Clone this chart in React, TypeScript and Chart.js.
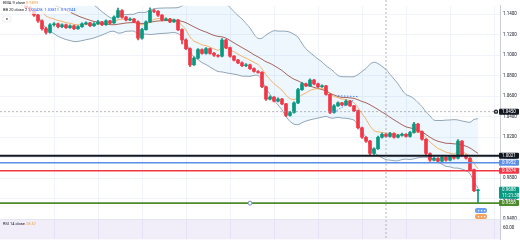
import React, { useEffect, useRef } from "react";
import { Chart, registerables } from "chart.js";

Chart.register(...registerables);

// ---------- data ----------
// closes before the first slot, used only to seed the indicators
const historyCloses = [
  1.168, 1.171, 1.166, 1.169, 1.172, 1.17, 1.167, 1.165, 1.168, 1.166,
  1.163, 1.165, 1.164, 1.161, 1.163, 1.166, 1.164, 1.162, 1.165,
];
const firstOpen = 1.165;
const closes = [
  1.162, 1.1585, 1.156, 1.153, 1.151, 1.149, 1.1465, 1.1437, 1.1391, 1.1335,
  1.126, 1.1223, 1.1298, 1.1307, 1.1279, 1.1298, 1.127, 1.1288, 1.126, 1.1279,
  1.1307, 1.1316, 1.1288, 1.1307, 1.1326, 1.1298, 1.1335, 1.1316, 1.1372, 1.1437,
  1.1372, 1.1344, 1.1353, 1.1326, 1.1167, 1.1251, 1.1326, 1.1437, 1.1428, 1.1391,
  1.1344, 1.1353, 1.1326, 1.1344, 1.1251, 1.1149, 1.1065, 1.0907, 1.0972, 1.1056,
  1.1019, 1.1065, 1.1019, 1.1, 1.0991, 1.1149, 1.1074, 1.0991, 1.0953, 1.0926,
  1.0898, 1.0907, 1.087, 1.0842, 1.0833, 1.0693, 1.0572, 1.0591, 1.0553, 1.0572,
  1.0526, 1.0414, 1.0442, 1.0535, 1.0665, 1.0721, 1.0702, 1.0758, 1.0721, 1.0693,
  1.0702, 1.0619, 1.0442, 1.0507, 1.0535, 1.0516, 1.0553, 1.0507, 1.046, 1.0293,
  1.02, 1.0163, 1.0042, 1.0088, 1.02, 1.0228, 1.0209, 1.0237, 1.02, 1.0219,
  1.0228, 1.0209, 1.0247, 1.033, 1.0256, 1.0181, 1.0042, 0.9977, 0.9995, 0.9967,
  1.0005, 0.9977, 1.0014, 0.9995, 1.0163, 1.0023, 0.9995, 0.9884, 0.9679, 0.9688,
];
const highs = [
  1.1665, 1.163, 1.16, 1.157, 1.1545, 1.152, 1.15, 1.1475, 1.1445, 1.14,
  1.1345, 1.1275, 1.131, 1.132, 1.1315, 1.1308, 1.1305, 1.1297, 1.1295, 1.129,
  1.1316, 1.1326, 1.1322, 1.1318, 1.134, 1.1332, 1.1345, 1.1342, 1.1385, 1.146,
  1.1445, 1.138, 1.1365, 1.136, 1.1335, 1.1262, 1.1335, 1.1462, 1.145, 1.1435,
  1.1398, 1.1365, 1.136, 1.1352, 1.135, 1.1258, 1.116, 1.1072, 1.0985, 1.1065,
  1.1062, 1.1075, 1.107, 1.1028, 1.1008, 1.1162, 1.1155, 1.108, 1.0998, 1.096,
  1.0935, 1.0918, 1.0915, 1.0878, 1.085, 1.084, 1.07, 1.0605, 1.0598, 1.0585,
  1.058, 1.0532, 1.0452, 1.0545, 1.0678, 1.0735, 1.073, 1.077, 1.0765, 1.0728,
  1.0712, 1.0708, 1.0625, 1.0518, 1.0545, 1.0542, 1.0565, 1.056, 1.0512, 1.0466,
  1.03, 1.0208, 1.017, 1.0098, 1.0212, 1.024, 1.0235, 1.0248, 1.0244, 1.023,
  1.024, 1.0235, 1.0258, 1.0345, 1.0336, 1.0262, 1.0188, 1.0048, 1.0006, 1.0002,
  1.0016, 1.0012, 1.0025, 1.002, 1.0178, 1.0168, 1.003, 1.0002, 0.989, 0.9695,
];
const lows = [
  1.161, 1.1575, 1.155, 1.152, 1.15, 1.1485, 1.1455, 1.1425, 1.138, 1.132,
  1.1245, 1.1205, 1.1215, 1.1285, 1.1268, 1.127, 1.1262, 1.1262, 1.125, 1.1252,
  1.1272, 1.1298, 1.128, 1.1282, 1.13, 1.129, 1.1292, 1.1308, 1.131, 1.1365,
  1.1362, 1.1335, 1.1338, 1.1318, 1.115, 1.1158, 1.1245, 1.132, 1.1415, 1.138,
  1.1335, 1.1338, 1.1318, 1.132, 1.124, 1.111, 1.1055, 1.089, 1.09, 1.0965,
  1.101, 1.1012, 1.101, 1.099, 1.0982, 1.0985, 1.1065, 1.0982, 1.0945, 1.0918,
  1.0888, 1.089, 1.0862, 1.0835, 1.0825, 1.0685, 1.056, 1.0565, 1.0545, 1.0546,
  1.0518, 1.04, 1.0405, 1.0436, 1.0528, 1.0658, 1.0694, 1.0696, 1.0712, 1.0685,
  1.0686, 1.061, 1.043, 1.0436, 1.05, 1.0508, 1.051, 1.05, 1.045, 1.0282,
  1.019, 1.015, 1.0025, 1.0032, 1.0082, 1.0192, 1.02, 1.0202, 1.0192, 1.0194,
  1.0212, 1.02, 1.0202, 1.024, 1.0248, 1.0172, 1.003, 0.9965, 0.997, 0.9958,
  0.996, 0.9968, 0.997, 0.9986, 0.999, 1.0015, 0.9986, 0.9875, 0.967, 0.9558,
];
const slotCount = 125;
const levelPrices = [1.0021, 0.9952, 0.9874, 0.9558];
const crosshairPrice = 1.045;
const crosshairSlot = 96;
const handleSlot = 62;
const gridSlots = [13, 24, 35, 46, 57, 68, 79, 90, 101, 112, 123];
const countdownText = "11:21:38";
const patternTopSlots = [84, 89];
const patternTopPrices = [1.0605, 1.0597];
const patternDiagSlots = [83, 88];
const patternDiagPrices = [1.0445, 1.0565];
const priceMin = 0.92047;
const priceMax = 1.14837;
const priceStep = 0.02;
const rsiPeriod = 14;
const rsiPaneTop = 70;
const rsiAxisLabel = 60;

// ---------- styles ----------
const FONT = "Roboto, 'Liberation Sans', sans-serif";
const UP = "#089981";
const DOWN = "#f23645";
const levelStyles = [
  { color: "#131722", width: 2 },
  { color: "#5b8ee6", width: 1.6 },
  { color: "#f23645", width: 1.6 },
  { color: "#4c8b2b", width: 1.6 },
];

// ---------- derived tables ----------
const opens = closes.map((c, i) => (i === 0 ? firstOpen : closes[i - 1]));
const allCloses = historyCloses.concat(closes);
const H = historyCloses.length;

function bands() {
  const up: (number | null)[] = [];
  const mid: (number | null)[] = [];
  const lo: (number | null)[] = [];
  for (let i = 0; i < closes.length; i++) {
    const end = H + i;
    const win = allCloses.slice(Math.max(0, end - 19), end + 1);
    const m = win.reduce((a, b) => a + b, 0) / win.length;
    const sd = Math.sqrt(win.reduce((a, b) => a + (b - m) * (b - m), 0) / win.length);
    mid.push(m);
    up.push(m + 2 * sd);
    lo.push(m - 2 * sd);
  }
  return { up, mid, lo };
}
function ema(period: number) {
  const k = 2 / (period + 1);
  let e = allCloses[0];
  const out: number[] = [];
  allCloses.forEach((c, i) => {
    e = i === 0 ? c : c * k + e * (1 - k);
    if (i >= H) out.push(e);
  });
  return out;
}
function rsi(period: number) {
  let ag = 0;
  let al = 0;
  const out: (number | null)[] = [];
  for (let i = 1; i < allCloses.length; i++) {
    const d = allCloses[i] - allCloses[i - 1];
    const g = Math.max(d, 0);
    const l = Math.max(-d, 0);
    if (i <= period) {
      ag += g / period;
      al += l / period;
    } else {
      ag = (ag * (period - 1) + g) / period;
      al = (al * (period - 1) + l) / period;
    }
    if (i >= H) out.push(al === 0 ? 100 : 100 - 100 / (1 + ag / al));
  }
  if (out.length < closes.length) out.unshift(null);
  return out;
}

export default function App() {
  const ref = useRef<HTMLCanvasElement | null>(null);
  useEffect(() => {
    if (!ref.current) return;
    const labels = Array.from({ length: slotCount }, (_, i) => String(i));
    const bb = bands();
    const e9 = ema(9);
    const r = rsi(rsiPeriod);
    const colors = closes.map((c, i) => (c >= opens[i] ? UP : DOWN));
    const last = closes.length - 1;

    const roundRect = (ctx: CanvasRenderingContext2D, x: number, y: number, w: number, h: number, rad: number) => {
      ctx.beginPath();
      ctx.moveTo(x + rad, y);
      ctx.lineTo(x + w - rad, y);
      ctx.quadraticCurveTo(x + w, y, x + w, y + rad);
      ctx.lineTo(x + w, y + h - rad);
      ctx.quadraticCurveTo(x + w, y + h, x + w - rad, y + h);
      ctx.lineTo(x + rad, y + h);
      ctx.quadraticCurveTo(x, y + h, x, y + h - rad);
      ctx.lineTo(x, y + rad);
      ctx.quadraticCurveTo(x, y, x + rad, y);
      ctx.closePath();
    };

    const overlay = {
      id: "overlay",
      beforeDatasetsDraw(chart: any) {
        const { ctx, chartArea, scales } = chart;
        const top = scales.rsi.getPixelForValue(rsiPaneTop);
        ctx.save();
        ctx.fillStyle = "rgba(149,117,205,0.13)";
        ctx.fillRect(chartArea.left, top, chartArea.right - chartArea.left, chartArea.bottom - top);
        ctx.strokeStyle = "#e0e3eb";
        ctx.lineWidth = 1;
        ctx.beginPath();
        ctx.moveTo(chartArea.left, top - 0.5);
        ctx.lineTo(chart.width, top - 0.5);
        ctx.stroke();
        ctx.restore();
      },
      afterDatasetsDraw(chart: any) {
        const { ctx, chartArea, scales } = chart;
        const y = scales.y;
        const x = scales.x;
        ctx.save();
        // level lines
        levelPrices.forEach((p, i) => {
          const py = y.getPixelForValue(p);
          ctx.strokeStyle = levelStyles[i].color;
          ctx.lineWidth = levelStyles[i].width;
          ctx.beginPath();
          ctx.moveTo(chartArea.left, py);
          ctx.lineTo(chartArea.right, py);
          ctx.stroke();
        });
        // handle on green line
        const gy = y.getPixelForValue(levelPrices[3]);
        const hx = x.getPixelForValue(handleSlot);
        ctx.beginPath();
        ctx.arc(hx, gy, 2, 0, Math.PI * 2);
        ctx.fillStyle = "#ffffff";
        ctx.fill();
        ctx.strokeStyle = "#6c8fb8";
        ctx.lineWidth = 1;
        ctx.stroke();
        // crosshair
        const cx = x.getPixelForValue(crosshairSlot);
        const cy = y.getPixelForValue(crosshairPrice);
        ctx.setLineDash([2, 2]);
        ctx.strokeStyle = "#9598a1";
        ctx.lineWidth = 0.7;
        ctx.beginPath();
        ctx.moveTo(cx, 0);
        ctx.lineTo(cx, chartArea.bottom);
        ctx.moveTo(chartArea.left, cy);
        ctx.lineTo(chartArea.right, cy);
        ctx.stroke();
        ctx.setLineDash([]);

        // legend texts
        ctx.textBaseline = "middle";
        ctx.textAlign = "left";
        ctx.font = `4px ${FONT}`;
        ctx.fillStyle = "rgba(255,255,255,0.75)";
        ctx.fillRect(1, 0, 70, 14);
        ctx.fillStyle = "#131722";
        ctx.fillText("EMA 9 close", 3, 3);
        ctx.fillStyle = "#f59d3d";
        ctx.fillText(e9[last].toFixed(4), 26, 3);
        ctx.fillStyle = "#131722";
        ctx.fillText("BB 20 close 2", 3, 10);
        ctx.fillStyle = "#2962ff";
        ctx.fillText(
          `${(bb.mid[last] as number).toFixed(5)}  ${(bb.up[last] as number).toFixed(5)}  ${(bb.lo[last] as number).toFixed(5)}`,
          28,
          10
        );
        // collapse button
        ctx.fillStyle = "#ffffff";
        roundRect(ctx, 3, 16, 8, 6, 1.5);
        ctx.fill();
        ctx.strokeStyle = "#e0e3eb";
        ctx.lineWidth = 0.6;
        ctx.stroke();
        ctx.fillStyle = "#131722";
        ctx.font = `5px ${FONT}`;
        ctx.textAlign = "center";
        ctx.fillText("\u00ab", 7, 19);
        // rsi legend
        ctx.textAlign = "left";
        ctx.font = `4px ${FONT}`;
        const rt = scales.rsi.getPixelForValue(rsiPaneTop);
        ctx.fillStyle = "#131722";
        ctx.fillText("RSI 14 close", 3, rt + 4);
        ctx.fillStyle = "#f59d3d";
        ctx.fillText((r[last] as number).toFixed(2), 26, rt + 4);

        // alert icons near last candle
        const ix = x.getPixelForValue(last) - 3;
        ctx.fillStyle = "#6aa0f0";
        roundRect(ctx, ix, gy + 5, 12, 5, 2);
        ctx.fill();
        ctx.fillStyle = "#f5a25d";
        roundRect(ctx, ix, gy + 11, 12, 5, 2);
        ctx.fill();
        ctx.fillStyle = "#ffffff";
        for (let k = 0; k < 3; k++) {
          ctx.fillRect(ix + 3 + k * 3, gy + 7, 1.2, 1.2);
          ctx.fillRect(ix + 3 + k * 3, gy + 13, 1.2, 1.2);
        }

        // axis boxes
        const bx = chartArea.right - 1;
        const bw = chart.width - bx - 1;
        const box = (py: number, color: string, text: string, text2?: string) => {
          const h = text2 ? 12 : 6;
          ctx.fillStyle = color;
          roundRect(ctx, bx, py - 3, bw, h, 1);
          ctx.fill();
          ctx.fillStyle = "#ffffff";
          ctx.font = `4.5px ${FONT}`;
          ctx.textAlign = "left";
          ctx.fillText(text, bx + 3, py);
          if (text2) ctx.fillText(text2, bx + 3, py + 6);
        };
        box(cy, "#131722", crosshairPrice.toFixed(4));
        ctx.beginPath();
        ctx.arc(bx - 3, cy, 2.2, 0, Math.PI * 2);
        ctx.fillStyle = "#131722";
        ctx.fill();
        ctx.strokeStyle = "#ffffff";
        ctx.lineWidth = 0.6;
        ctx.beginPath();
        ctx.moveTo(bx - 4.2, cy);
        ctx.lineTo(bx - 1.8, cy);
        ctx.moveTo(bx - 3, cy - 1.2);
        ctx.lineTo(bx - 3, cy + 1.2);
        ctx.stroke();
        levelPrices.slice(0, 3).forEach((p, i) => {
          box(y.getPixelForValue(p), levelStyles[i].color, p.toFixed(4));
        });
        box(y.getPixelForValue(closes[last]), colors[last], closes[last].toFixed(4), countdownText);
        box(gy, levelStyles[3].color, levelPrices[3].toFixed(4));
        // rsi axis label
        ctx.fillStyle = "#131722";
        ctx.font = `4.5px ${FONT}`;
        ctx.fillText(rsiAxisLabel.toFixed(2), chartArea.right + 3, scales.rsi.getPixelForValue(rsiAxisLabel));
        ctx.restore();
      },
    };

    const lineBase = {
      type: "line" as const,
      pointRadius: 0,
      borderWidth: 1,
      tension: 0.3,
      yAxisID: "y",
    };
    const pts = (slots: number[], prices: number[]) =>
      slots.map((s, i) => ({ x: String(s), y: prices[i] }));

    const chart = new Chart(ref.current, {
      type: "bar",
      data: {
        labels,
        datasets: [
          { ...lineBase, label: "bbUpper", data: bb.up, borderColor: "#93a6b6", order: 6, fill: false },
          {
            ...lineBase,
            label: "bbLower",
            data: bb.lo,
            borderColor: "#93a6b6",
            backgroundColor: "rgba(33,150,243,0.08)",
            fill: "-1",
            order: 6,
          },
          { ...lineBase, label: "bbBasis", data: bb.mid, borderColor: "#a5645c", order: 5 },
          { ...lineBase, label: "ema9", data: e9, borderColor: "rgba(245,157,61,0.75)", order: 4 },
          {
            type: "bar",
            label: "wicks",
            data: closes.map((_, i) => [lows[i], highs[i]]),
            backgroundColor: colors,
            barThickness: 1,
            grouped: false,
            order: 3,
            yAxisID: "y",
          },
          {
            type: "bar",
            label: "bodies",
            data: closes.map((c, i) => [opens[i], c]),
            backgroundColor: colors,
            barThickness: 3,
            grouped: false,
            order: 2,
            yAxisID: "y",
          },
          {
            type: "line",
            label: "patternTop",
            data: pts(patternTopSlots, patternTopPrices),
            borderColor: "#2962ff",
            borderWidth: 0.8,
            borderDash: [1.5, 1.5],
            pointRadius: 0,
            order: 1,
            yAxisID: "y",
          },
          {
            type: "line",
            label: "patternDiag",
            data: pts(patternDiagSlots, patternDiagPrices),
            borderColor: "#2962ff",
            borderWidth: 0.8,
            borderDash: [1.5, 1.5],
            pointRadius: 0,
            order: 1,
            yAxisID: "y",
          },
          {
            type: "line",
            label: "rsi",
            data: r,
            borderColor: "#7e57c2",
            borderWidth: 0.8,
            pointRadius: 0,
            tension: 0.2,
            yAxisID: "rsi",
            clip: { left: 0, right: 0, bottom: 0, top: -231 } as any,
            order: 1,
          },
        ] as any,
      },
      options: {
        responsive: false,
        animation: false,
        layout: { padding: 0 },
        plugins: { legend: { display: false }, tooltip: { enabled: false } },
        scales: {
          x: {
            type: "category",
            offset: true,
            ticks: { display: false, autoSkip: false },
            grid: {
              offset: false,
              drawTicks: false,
              color: (c: any) => (gridSlots.includes(c.index) ? "#f0f3fa" : "rgba(0,0,0,0)"),
            },
            border: { display: false },
            afterFit: (s: any) => {
              s.height = 0;
            },
          },
          y: {
            position: "right",
            min: priceMin,
            max: priceMax,
            afterFit: (s: any) => {
              s.width = 20;
            },
            ticks: {
              stepSize: priceStep,
              includeBounds: false,
              padding: 3,
              color: "#131722",
              font: { size: 4.5, family: FONT },
              callback: (v: any) => Number(v).toFixed(4),
            },
            grid: { color: "#f0f3fa", drawTicks: false },
            border: { display: true, color: "#c9ccd4" },
          },
          rsi: {
            display: false,
            min: 52.5,
            max: 358.75,
          },
        },
      } as any,
      plugins: [overlay],
    });
    return () => chart.destroy();
  }, []);

  return (
    <div style={{ position: "fixed", left: 0, top: 0, width: 520, height: 245, background: "#fff" }}>
      <canvas ref={ref} width={520} height={245} style={{ display: "block" }} />
    </div>
  );
}
